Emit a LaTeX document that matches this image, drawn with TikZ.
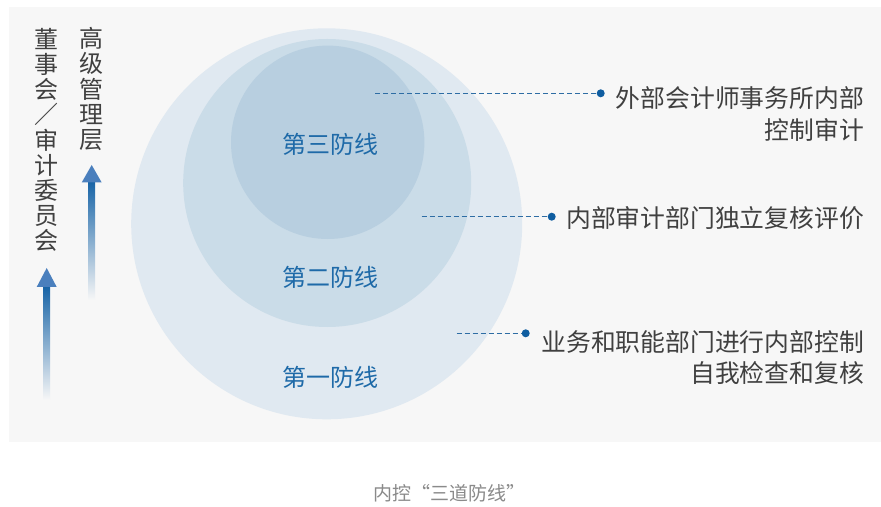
\documentclass[tikz,border=0pt]{standalone}
\usepackage{fontspec}
\newfontfamily\cjk{Noto Sans CJK SC}
\definecolor{bg}{HTML}{F7F7F7}
\definecolor{cA}{HTML}{E0E9F1}
\definecolor{cB}{HTML}{CADCE8}
\definecolor{cC}{HTML}{B8CFE0}
\definecolor{lbl}{HTML}{1E6AA8}
\definecolor{txt}{HTML}{404040}
\definecolor{dline}{HTML}{2E6DA4}
\definecolor{dotc}{HTML}{0F5DA0}
\definecolor{capc}{HTML}{8A8A8A}
\definecolor{ahead}{HTML}{4A7FBD}
\definecolor{ashaft}{HTML}{1663A6}
\tikzset{
  ring/.style={circle, draw=none, inner sep=0pt},
  lbltext/.style={text=lbl, font={\cjk\fontsize{24bp}{24bp}\selectfont}, inner sep=0pt},
  rtext/.style={text=txt, anchor=east, align=right, inner sep=0pt, font={\cjk\fontsize{24.8bp}{31.5bp}\selectfont}},
  vtext/.style={text=txt, align=center, inner sep=0pt, font={\cjk\fontsize{24bp}{25.2bp}\selectfont}},
  dotnode/.style={circle, fill=dotc, inner sep=0pt, minimum size=8bp},
  dl/.style={dline, line width=1.4bp, dash pattern=on 5bp off 3bp},
}
\begin{document}
\begin{tikzpicture}[x=1bp,y=-1bp]
\useasboundingbox (0,0) rectangle (881,507);
\fill[white] (0,0) rectangle (881,507);
\fill[bg] (9,7) rectangle (881,442);
% circles
\node[ring, fill=cA, minimum size=391bp] (outer) at (326.7,223.8) {};
\node[ring, fill=cB, minimum size=288bp] (middle) at (327.2,183) {};
\node[ring, fill=cC, minimum size=193.4bp] (inner) at (327.7,142.3) {};
\node[lbltext] (l3) at (330.3,144) {第三防线};
\node[lbltext] (l2) at (330.3,277) {第二防线};
\node[lbltext] (l1) at (330.3,377) {第一防线};
% leaders
\node[dotnode] (d1) at (600.7,93.3) {};
\node[dotnode] (d2) at (551.7,216.7) {};
\node[dotnode] (d3) at (525.7,333.3) {};
\coordinate (s1) at (375,93.3);
\coordinate (s2) at (421.7,216.7);
\coordinate (s3) at (456.7,333.3);
\draw[dl] (s1) -- (d1);
\draw[dl] (s2) -- (d2);
\draw[dl] (s3) -- (d3);
\node[rtext] (t1) at (864,114) {外部会计师事务所内部\\控制审计};
\node[rtext] (t2) at (864,218.5) {内部审计部门独立复核评价};
\node[rtext] (t3) at (864,357.5) {业务和职能部门进行内部控制\\自我检查和复核};
% vertical texts
\node[vtext] (v1) at (46.7,140) {董\\事\\会\\／\\审\\计\\委\\员\\会};
\node[vtext] (v2) at (91.7,89) {高\\级\\管\\理\\层};
% arrows
\shade[top color=ashaft, middle color=ashaft!45!bg, bottom color=bg] (43.2,286) rectangle (50.2,400);
\fill[ahead] (46.7,268) -- (56.7,287) -- (36.7,287) -- cycle;
\shade[top color=ashaft, middle color=ashaft!45!bg, bottom color=bg] (88.2,181) rectangle (95.2,300);
\fill[ahead] (91.7,165) -- (101.7,182.5) -- (81.7,182.5) -- cycle;
% caption
\node[text=capc, inner sep=0pt, font={\cjk\fontsize{19bp}{19bp}\selectfont}] (cap) at (449,493.5) {内控“三道防线”};
\end{tikzpicture}
\end{document}
